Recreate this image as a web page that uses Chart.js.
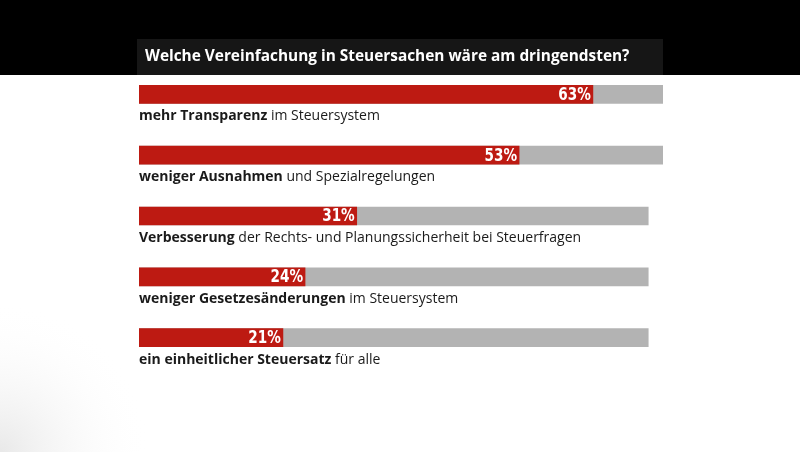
<!DOCTYPE html>
<html>
<head>
<meta charset="utf-8">
<script src="https://cdn.jsdelivr.net/npm/chart.js@4"></script>
<style>
  html, body { margin: 0; padding: 0; background: #fff; }
  #wrap { width: 800px; height: 452px; position: relative; }
</style>
</head>
<body>
<div id="wrap"><canvas id="barCanvas" width="800" height="452"></canvas></div>
<script>
const title = "Welche Vereinfachung in Steuersachen wäre am dringendsten?";
const labelBold = ["mehr Transparenz", "weniger Ausnahmen", "Verbesserung", "weniger Gesetzesänderungen", "ein einheitlicher Steuersatz"];
const labelRest = [" im Steuersystem", " und Spezialregelungen", " der Rechts- und Planungssicherheit bei Steuerfragen", " im Steuersystem", " für alle"];
const values = [63, 53, 31, 24, 21];
const track = [72.5, 72.5, 70.5, 70.5, 70.5];

const backdrop = {
  id: "backdrop",
  beforeDraw(chart) {
    const ctx = chart.ctx;
    ctx.save();
    ctx.fillStyle = "#ffffff";
    ctx.fillRect(0, 0, chart.width, chart.height);
    // soft vignette bottom left
    const g = ctx.createRadialGradient(0, 452, 0, 0, 452, 150);
    g.addColorStop(0, "rgba(210,210,210,0.5)");
    g.addColorStop(1, "rgba(255,255,255,0)");
    ctx.fillStyle = g;
    ctx.fillRect(0, 290, 200, 162);
    ctx.fillStyle = "#000000";
    ctx.fillRect(0, 0, chart.width, 75);
    ctx.fillStyle = "#161616";
    ctx.fillRect(137, 39, 526, 36);
    ctx.fillStyle = "#ffffff";
    ctx.font = "bold 15.4px 'Open Sans', sans-serif";
    ctx.textBaseline = "middle";
    ctx.fillText(title, 145, 57);
    ctx.restore();
  }
};

const texts = {
  id: "texts",
  afterDatasetsDraw(chart) {
    const ctx = chart.ctx;
    const meta = chart.getDatasetMeta(0);
    ctx.save();
    values.forEach((v, i) => {
      const bar = meta.data[i];
      // condensed white percent label at the end of the red bar
      ctx.save();
      ctx.translate(bar.x - 2, bar.y + 1);
      ctx.scale(0.8, 1);
      ctx.fillStyle = "#ffffff";
      ctx.font = "bold 17px 'DejaVu Sans', sans-serif";
      ctx.textAlign = "right";
      ctx.textBaseline = "middle";
      ctx.fillText(v + "%", 0, 0);
      ctx.restore();

      const y = bar.y + 22;
      ctx.textAlign = "left";
      ctx.textBaseline = "middle";
      ctx.fillStyle = "#1a1a1a";
      ctx.font = "bold 14px 'Open Sans', sans-serif";
      ctx.fillText(labelBold[i], 139, y);
      const w = ctx.measureText(labelBold[i]).width;
      ctx.font = "14px 'Open Sans', sans-serif";
      ctx.fillText(labelRest[i], 139 + w, y);
    });
    ctx.restore();
  }
};

const config = {
  type: "bar",
  data: {
    labels: labelBold,
    datasets: [
      {
        label: "Anteil",
        data: values,
        backgroundColor: "#bd1a12",
        barThickness: 18,
        grouped: false,
        base: 1.5,
        order: 0
      },
      {
        label: "Hintergrund",
        data: track,
        backgroundColor: "#b3b3b3",
        barThickness: 18,
        grouped: false,
        base: 1.5,
        order: 1
      }
    ]
  },
  options: {
    indexAxis: "y",
    responsive: false,
    animation: false,
    layout: { padding: { top: 64, bottom: 84, left: 139, right: 137 } },
    scales: {
      x: { display: false, min: 1.5, max: 72.5 },
      y: { display: false }
    },
    plugins: {
      legend: { display: false },
      tooltip: { enabled: false }
    }
  },
  plugins: [backdrop, texts]
};

const canvas = document.getElementById("barCanvas");
if (canvas) {
  new Chart(canvas.getContext("2d"), config);
} else {
  console.error("no canvas");
}
</script>
</body>
</html>
